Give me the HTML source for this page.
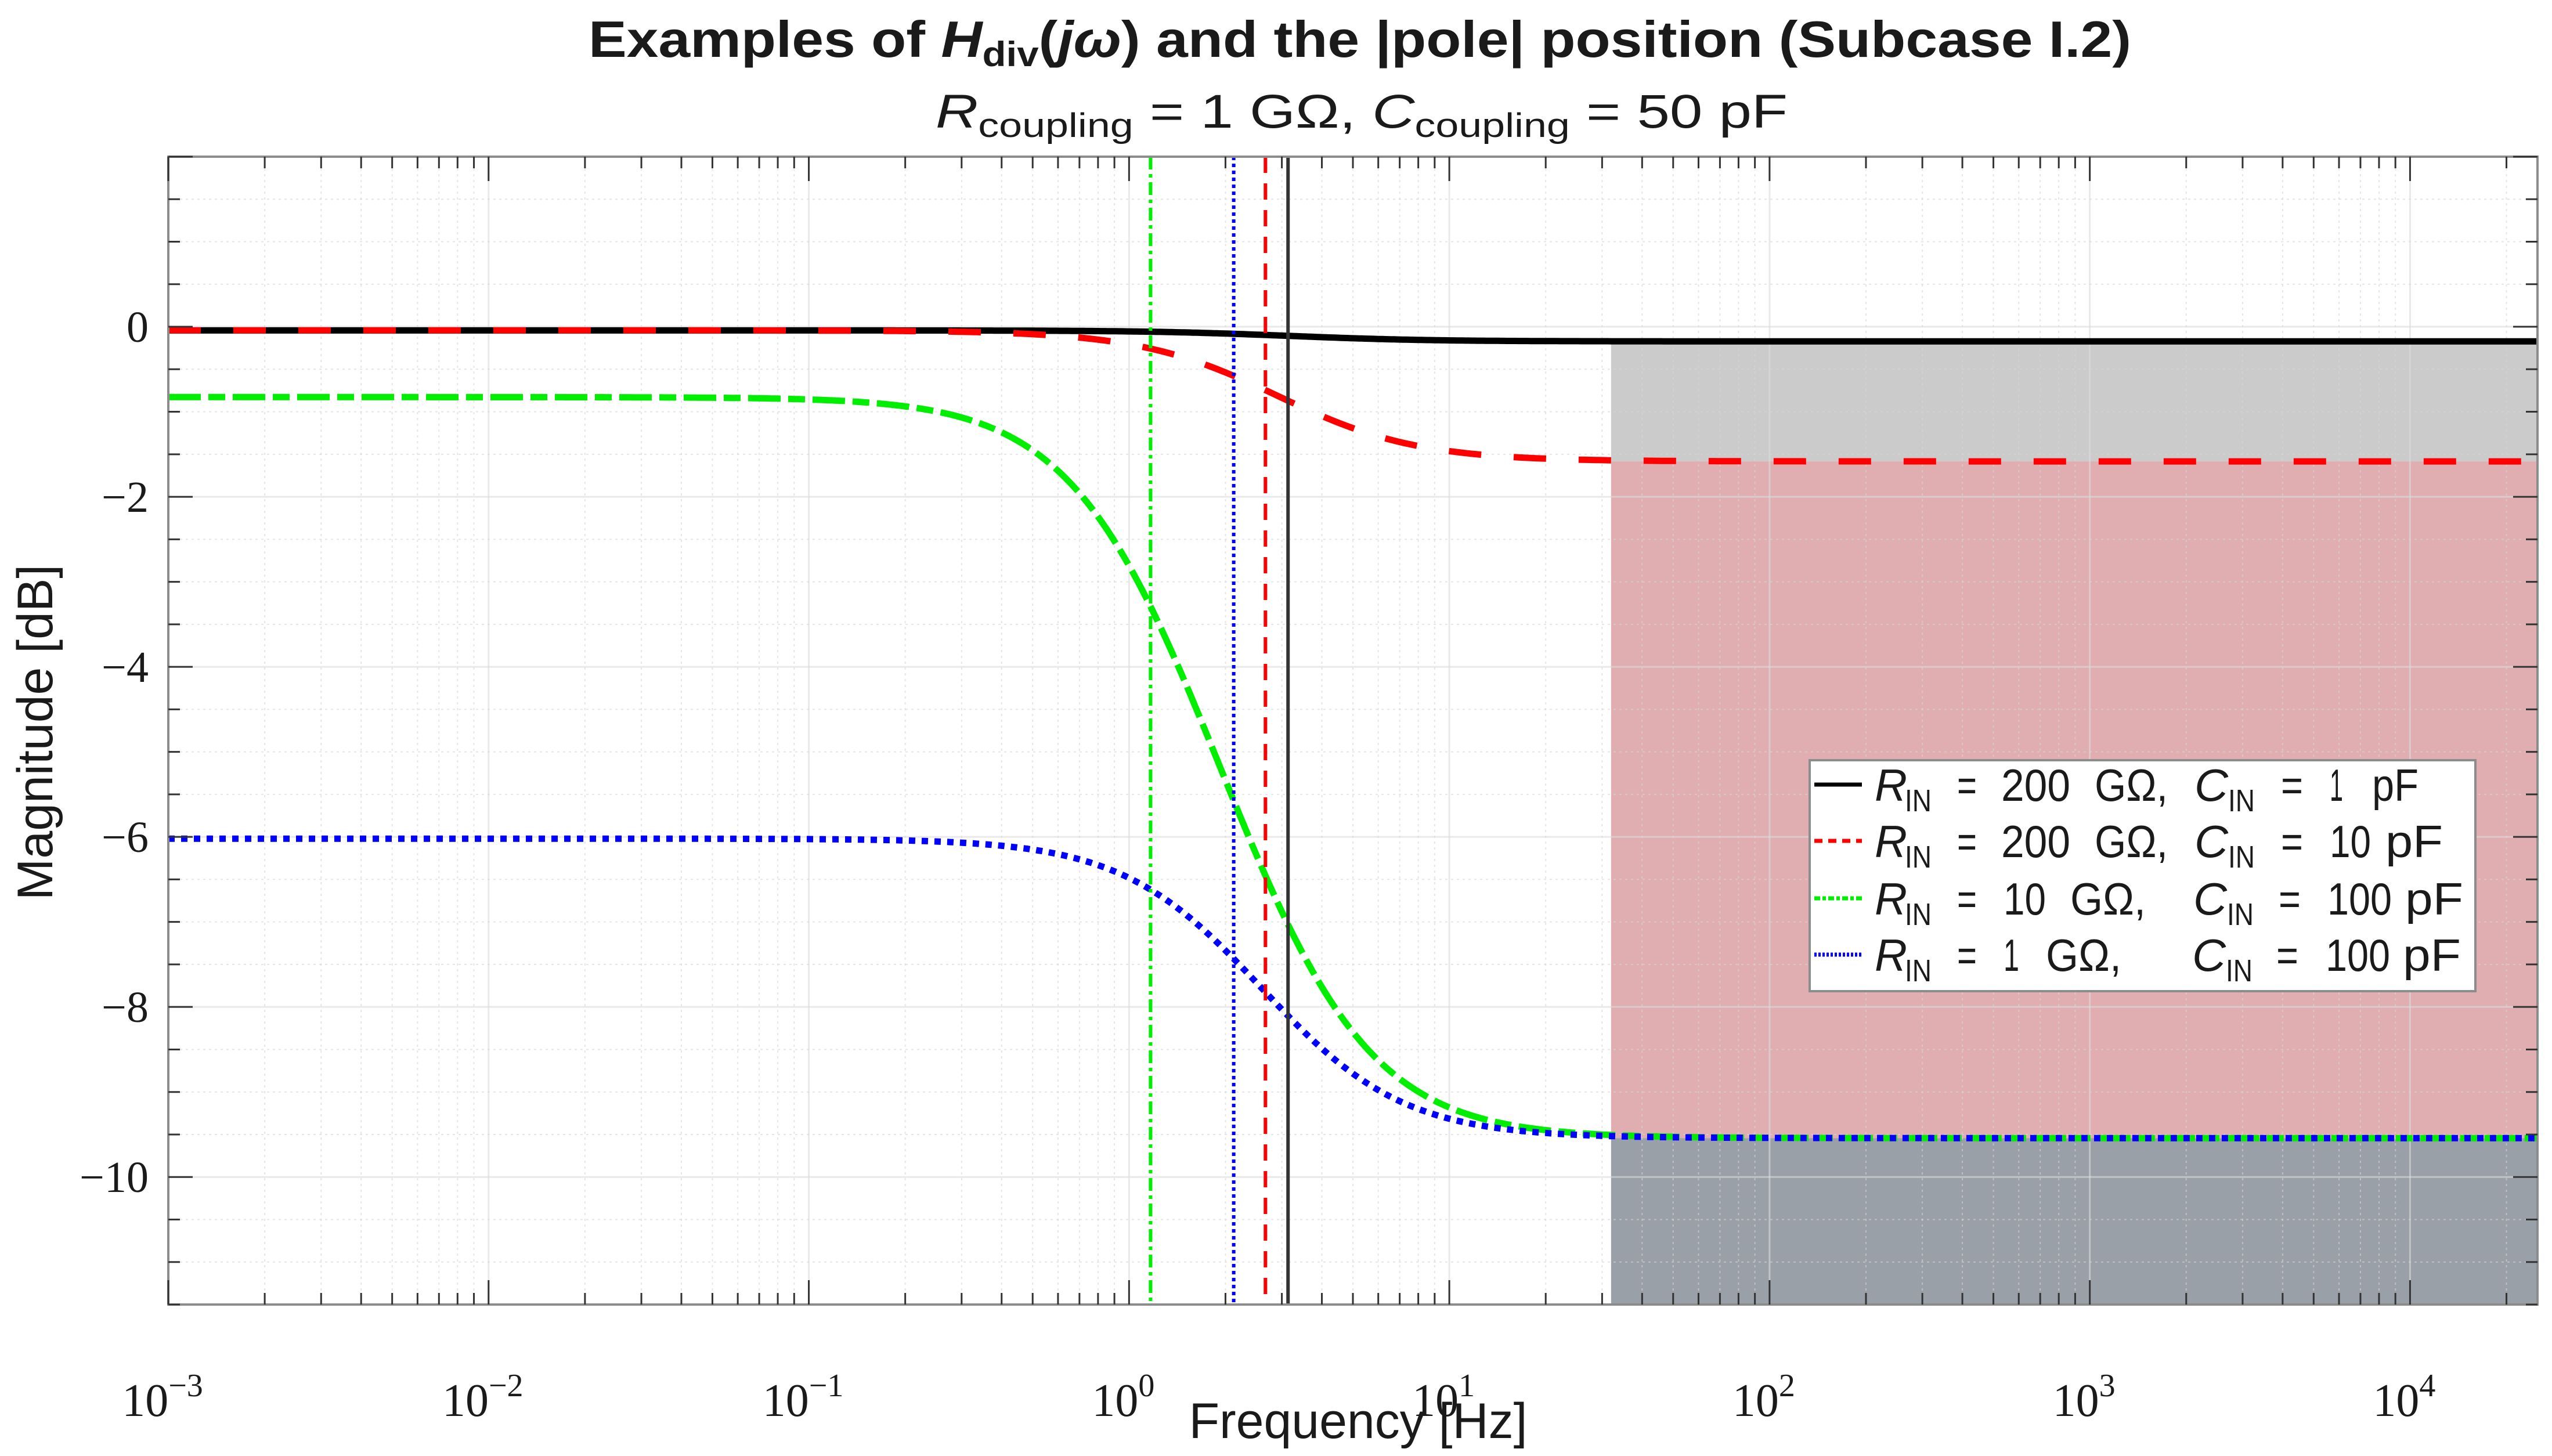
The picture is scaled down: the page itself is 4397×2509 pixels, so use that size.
<!DOCTYPE html>
<html><head><meta charset="utf-8"><style>
html,body{margin:0;padding:0;background:#fff;}
svg{display:block;}
</style></head><body>
<svg id="chart" xmlns="http://www.w3.org/2000/svg" width="4397" height="2509" viewBox="0 0 4397 2509">
<rect width="4397" height="2509" fill="#fff"/>
<g id="shade"></g>
<g id="grid"></g>
<g id="curves"></g>
<g id="poles"></g>
<g id="axes"></g>
<g id="legend"></g>
<text x="2343" y="98" text-anchor="middle" font-family="Liberation Sans, sans-serif" font-weight="bold" font-size="88" fill="#1a1a1a" textLength="2658" lengthAdjust="spacingAndGlyphs">Examples of <tspan font-style="italic">H</tspan><tspan font-size="60" dy="16">div</tspan><tspan dy="-16">(</tspan><tspan font-style="italic">jω</tspan>) and the |pole| position (Subcase I.2)</text>
<text x="2346" y="220" text-anchor="middle" font-family="Liberation Sans, sans-serif" font-size="82" fill="#1a1a1a" textLength="1468" lengthAdjust="spacingAndGlyphs"><tspan font-style="italic">R</tspan><tspan font-size="58" dy="16">coupling</tspan><tspan dy="-16"> = 1 GΩ, </tspan><tspan font-style="italic">C</tspan><tspan font-size="58" dy="16">coupling</tspan><tspan dy="-16"> = 50 pF</tspan></text>
<text x="2340" y="2478" text-anchor="middle" font-family="Liberation Sans, sans-serif" font-size="86" fill="#1a1a1a">Frequency [Hz]</text>
<text transform="translate(90,1262) rotate(-90)" text-anchor="middle" font-family="Liberation Sans, sans-serif" font-size="86" fill="#1a1a1a">Magnitude [dB]</text>
</svg>
<script>
// ---- data ----
const rCoupling = 1e9;          // ohm
const cCoupling = 50e-12;       // F
const seriesNames = ["black", "red", "green", "blue"];
const rIn = [200e9, 200e9, 10e9, 1e9];
const cIn = [1e-12, 10e-12, 100e-12, 100e-12];
const legendRValues = ["200", "200", "10", "1"];
const legendCValues = ["1", "10", "100", "100"];
const xTickExps = [-3, -2, -1, 0, 1, 2, 3, 4];
const yTicks = [0, -2, -4, -6, -8, -10];
const shadeStartHz = 32;
const xDomain = [1e-3, 25000];
const yDomain = [-11.5, 2];

// ---- layout ----
const L = 290, R = 4372, T = 270, B = 2248;
const NS = "http://www.w3.org/2000/svg";
const lx = Math.log10(xDomain[0]), hx = Math.log10(xDomain[1]);
function X(f) { return L + (Math.log10(f) - lx) / (hx - lx) * (R - L); }
function Y(db) { return T + (yDomain[1] - db) / (yDomain[1] - yDomain[0]) * (B - T); }
function mk(parent, tag, attrs) {
  const e = document.createElementNS(NS, tag);
  for (const k in attrs) e.setAttribute(k, attrs[k]);
  (typeof parent === "string" ? document.getElementById(parent) : parent).appendChild(e);
  return e;
}
function magDb(i, f) {
  const w = 2 * Math.PI * f;
  const gc = 1 / rCoupling, bc = w * cCoupling;
  const gi = 1 / rIn[i], bi = w * cIn[i];
  return 20 * Math.log10(Math.hypot(gc, bc) / Math.hypot(gc + gi, bc + bi));
}
function poleHz(i) { return (1 / rCoupling + 1 / rIn[i]) / (2 * Math.PI * (cCoupling + cIn[i])); }

const colors = ["#000000", "#ff0000", "#00ee00", "#0000ff"];
const dashes = ["none", "56 56", "56 13 29 13", "11 11"];
const vdashes = ["none", "28 18", "22 8 6 8", "6 6"];

// ---- shaded regions ----
const hiLevels = [0, 1, 2].map(i => magDb(i, xDomain[1]));
const xs0 = X(shadeStartHz);
let s;
s = mk("shade", "rect", {x: xs0, y: Y(hiLevels[0]), width: R - xs0, height: Y(hiLevels[1]) - Y(hiLevels[0]), fill: "#cbcbcb"});


s = mk("shade", "rect", {x: xs0, y: Y(hiLevels[1]), width: R - xs0, height: Y(hiLevels[2]) - Y(hiLevels[1]), fill: "#e0aeb0"});


s = mk("shade", "rect", {x: xs0, y: Y(hiLevels[2]), width: R - xs0, height: B - Y(hiLevels[2]), fill: "#99a0a8"});



// ---- grid ----
for (let e = xTickExps[0]; e <= 4; e++) {
  for (let m = 1; m <= 9; m++) {
    const f = m * Math.pow(10, e);
    if (f > xDomain[1]) break;
    const x = X(f);
    const g = mk("grid", "line", {x1: x, x2: x, y1: T, y2: B, stroke: m === 1 ? "#dcdcdc" : "#d6d6d6", "stroke-width": m === 1 ? 3 : 2, "stroke-dasharray": m === 1 ? "none" : "4 6", opacity: m === 1 ? 0.6 : 0.6});
    
    
  }
}
for (let v = -11.5; v <= 2; v += 0.5) {
  const major = Math.abs(v % 2) < 1e-9;
  const y = Y(v);
  const g = mk("grid", "line", {x1: L, x2: R, y1: y, y2: y, stroke: major ? "#dcdcdc" : "#d6d6d6", "stroke-width": major ? 3 : 2, "stroke-dasharray": major ? "none" : "4 6", opacity: 0.6});
  
  
}

// ---- curves ----
seriesNames.forEach((nm, i) => {
  let d = "";
  for (let k = 0; k <= 800; k++) {
    const f = Math.pow(10, lx + (hx - lx) * k / 800);
    d += (k ? "L" : "M") + X(f).toFixed(1) + "," + Y(magDb(i, f)).toFixed(1);
  }
  const p = mk("curves", "path", {d: d, fill: "none", stroke: colors[i], "stroke-width": 11, "stroke-dasharray": dashes[i]});
  
  
});

// ---- pole lines ----
seriesNames.forEach((nm, i) => {
  const x = X(poleHz(i));
  const ln = mk("poles", "line", {x1: x, x2: x, y1: T, y2: B, stroke: i === 0 ? "#333" : colors[i], "stroke-width": 6, "stroke-dasharray": vdashes[i]});
  
  
});

// ---- axes ----
const box = mk("axes", "rect", {x: L, y: T, width: R - L, height: B - T, fill: "none", stroke: "#8c8c8c", "stroke-width": 4});


for (let e = xTickExps[0]; e <= 4; e++) {
  for (let m = 1; m <= 9; m++) {
    const f = m * Math.pow(10, e);
    if (f > xDomain[1]) break;
    const x = X(f), len = m === 1 ? 42 : 20;
    let t = mk("axes", "line", {x1: x, x2: x, y1: B, y2: B - len, stroke: "#333", "stroke-width": 3});
    
    
    t = mk("axes", "line", {x1: x, x2: x, y1: T, y2: T + len, stroke: "#333", "stroke-width": 3});
    
    
  }
}
xTickExps.forEach(e => {
  const x = X(Math.pow(10, e));
  const tx = mk("axes", "text", {x: x - 10, y: 2440, "text-anchor": "middle", "font-family": "Liberation Serif, serif", "font-size": 80, fill: "#1a1a1a"});
  
  
  tx.textContent = "10";
  const sp = document.createElementNS(NS, "tspan");
  sp.setAttribute("dy", "-34");
  sp.setAttribute("font-size", "56");
  sp.textContent = e < 0 ? "−" + (-e) : String(e);
  tx.appendChild(sp);
});
for (let v = -11.5; v <= 2; v += 0.5) {
  const major = Math.abs(v % 2) < 1e-9;
  const y = Y(v), len = major ? 42 : 20;
  let t = mk("axes", "line", {x1: L, x2: L + len, y1: y, y2: y, stroke: "#333", "stroke-width": 3});
  
  
  t = mk("axes", "line", {x1: R, x2: R - len, y1: y, y2: y, stroke: "#333", "stroke-width": 3});
  
  
}
yTicks.forEach(v => {
  const t = mk("axes", "text", {x: 256, y: Y(v) + 26, "text-anchor": "end", "font-family": "Liberation Serif, serif", "font-size": 76, fill: "#1a1a1a"});
  
  
  t.textContent = v < 0 ? "−" + (-v) : String(v);
});

// ---- legend ----
const lg = mk("legend", "rect", {x: 3118, y: 1310, width: 1147, height: 398, fill: "#fff", stroke: "#8c8c8c", "stroke-width": 4});


const rowY = [1380, 1477, 1576, 1673];
// token layout per row: [x-start, width]
const layR = [[3448,119],[3448,119],[3452,73],[3452,27]];
const layG = [[3609,126],[3609,126],[3567,130],[3525,130]];
const layCx = [3781,3781,3779,3777];
const layEq2 = [3930,3930,3926,3922];
const layCv = [[4014,23],[4014,71],[4010,111],[4007,111]];
const layPF = [[4087,80],[4110,99],[4144,100],[4140,100]];
function tok(g, x, y, txt, w, extra) {
  const a = {x: x, y: y, "font-family": "Liberation Sans, sans-serif", "font-size": 78, fill: "#1a1a1a"};
  if (w) { a.textLength = w; a.lengthAdjust = "spacingAndGlyphs"; }
  for (const k in (extra || {})) a[k] = extra[k];
  const t = mk(g, "text", a);
  t.textContent = txt;
  return t;
}
seriesNames.forEach((nm, i) => {
  const y = rowY[i];
  const ln = mk("legend", "line", {x1: 3126, x2: 3208, y1: y - 28, y2: y - 28, stroke: colors[i], "stroke-width": 7, "stroke-dasharray": ["none", "14 10", "10 4 6 4", "4 3"][i]});
  
  
  const g = mk("legend", "g", {});
  
  
  tok(g, 3230, y, "R", 56, {"font-style": "italic"});
  tok(g, 3282, y + 18, "IN", 46, {"font-size": 54});
  tok(g, 3372, y, "=", 34);
  tok(g, layR[i][0], y, legendRValues[i], layR[i][1]);
  tok(g, layG[i][0], y, "GΩ,", layG[i][1]);
  tok(g, layCx[i], y, "C", 58, {"font-style": "italic"});
  tok(g, layCx[i] + 58, y + 18, "IN", 46, {"font-size": 54});
  tok(g, layEq2[i], y, "=", 38);
  tok(g, layCv[i][0], y, legendCValues[i], layCv[i][1]);
  tok(g, layPF[i][0], y, "pF", layPF[i][1]);
});
</script>
</body></html>
